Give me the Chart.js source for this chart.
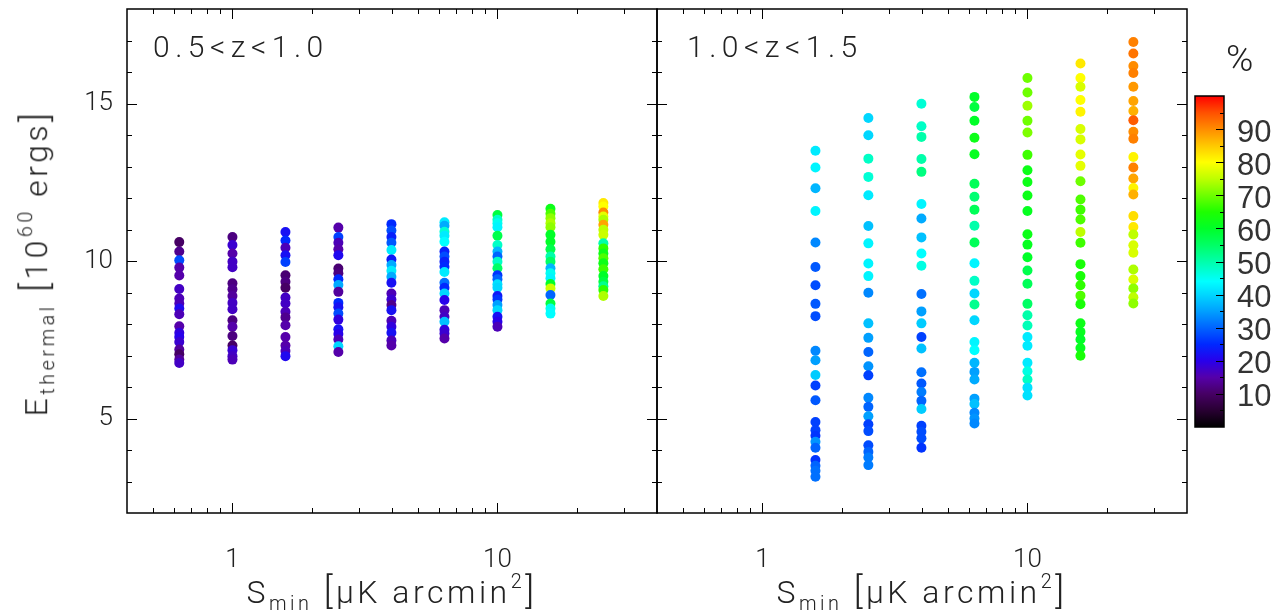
<!DOCTYPE html>
<html>
<head>
<meta charset="utf-8">
<script src="https://cdn.jsdelivr.net/npm/chart.js@4.4.0/dist/chart.umd.min.js"></script>
<style>
  html, body { margin: 0; padding: 0; background: #fff; }
  #wrap {
    position: relative; width: 1283px; height: 612px; overflow: hidden;
    font-family: Roboto, Lato, "DejaVu Sans", sans-serif; font-weight: 300; color: #222;
  }
  #wrap canvas { position: absolute; top: 0; }
  .lbl { position: absolute; white-space: nowrap; line-height: 1; }
  .panel { font-size: 30px; letter-spacing: 5.5px; top: 32px; }
  .xtitle { font-size: 32px; letter-spacing: 3.5px; top: 572px; transform: translateX(-50%); }
  .ytitle { font-size: 32px; letter-spacing: 3.5px; left: 37px; top: 263px; transform: translate(-50%, -50%) rotate(-90deg); }
  .lbl sub { font-size: 0.62em; vertical-align: -0.35em; }
  .lbl sup { font-size: 0.62em; vertical-align: 0.75em; }
  .lbl .br { font-size: 1.15em; }
  .pct { font-size: 37px; left: 1226px; top: 40px; }
</style>
</head>
<body>
<div id="wrap">
  <canvas id="lowZ" width="680" height="612" style="left:0"></canvas>
  <canvas id="highZ" width="600" height="612" style="left:600px"></canvas>
  <canvas id="cbar" width="100" height="612" style="left:1183px"></canvas>

  <div class="lbl panel" style="left:153px">0.5&lt;z&lt;1.0</div>
  <div class="lbl panel" style="left:687px">1.0&lt;z&lt;1.5</div>
  <div class="lbl xtitle" style="left:392px">S<sub>min</sub> <span class="br">[</span>&mu;K arcmin<sup>2</sup><span class="br">]</span></div>
  <div class="lbl xtitle" style="left:922px">S<sub>min</sub> <span class="br">[</span>&mu;K arcmin<sup>2</sup><span class="br">]</span></div>
  <div class="lbl ytitle">E<sub>thermal</sub> <span class="br">[</span>10<sup>60</sup> ergs<span class="br">]</span></div>
  <div class="lbl pct">%</div>
</div>
<script>
// noise thresholds, muK arcmin^2
const sminLow = [0.63, 1.0, 1.585, 2.51, 3.98, 6.31, 10.0, 15.85, 25.1];
const sminHigh = [1.585, 2.51, 3.98, 6.31, 10.0, 15.85, 25.1];

// 0.5 < z < 1.0 : thermal energy (1e60 erg) and percentage per threshold
const lowE = [
  [10.60, 10.30, 10.02, 9.79, 9.54, 9.11, 8.81, 8.65, 8.49, 8.31, 7.93, 7.72, 7.59, 7.43, 7.19, 7.04, 6.87, 6.76],
  [10.76, 10.51, 10.24, 9.98, 9.80, 9.29, 9.10, 8.89, 8.67, 8.47, 8.12, 7.91, 7.62, 7.32, 7.17, 6.98, 6.87],
  [10.92, 10.65, 10.42, 10.18, 9.97, 9.55, 9.34, 9.15, 8.84, 8.65, 8.39, 8.21, 7.96, 7.59, 7.32, 7.14, 6.98],
  [11.06, 10.76, 10.58, 10.37, 10.18, 9.76, 9.61, 9.42, 9.24, 9.02, 8.67, 8.53, 8.33, 8.14, 7.83, 7.68, 7.51, 7.29, 7.11],
  [11.17, 10.97, 10.76, 10.58, 10.35, 10.05, 9.87, 9.69, 9.50, 9.31, 8.97, 8.78, 8.60, 8.44, 8.10, 7.91, 7.72, 7.48, 7.32],
  [11.23, 11.12, 10.93, 10.80, 10.61, 10.30, 10.14, 9.98, 9.82, 9.65, 9.31, 9.15, 8.97, 8.76, 8.44, 8.23, 8.07, 7.82, 7.70, 7.54],
  [11.46, 11.31, 11.20, 11.07, 10.80, 10.51, 10.30, 10.14, 9.98, 9.77, 9.55, 9.42, 9.26, 9.15, 8.89, 8.78, 8.60, 8.44, 8.23, 8.07, 7.91],
  [11.66, 11.50, 11.36, 11.20, 11.07, 10.83, 10.61, 10.37, 10.14, 9.98, 9.77, 9.61, 9.45, 9.27, 9.13, 8.92, 8.65, 8.49, 8.33],
  [11.84, 11.73, 11.54, 11.41, 11.31, 11.15, 10.99, 10.83, 10.56, 10.40, 10.24, 10.09, 9.93, 9.74, 9.52, 9.34, 9.20, 9.08, 8.89]
];
const lowPct = [
  [10, 13, 28, 15, 15, 17, 16, 16, 21, 16, 15, 19, 20, 18, 14, 10, 14, 17],
  [12, 18, 15, 17, 17, 12, 13, 14, 17, 17, 12, 15, 12, 10, 18, 17, 16],
  [22, 25, 16, 22, 27, 11, 12, 10, 17, 17, 16, 13, 15, 15, 15, 16, 21],
  [15, 27, 16, 15, 21, 11, 12, 25, 36, 14, 25, 22, 28, 19, 22, 20, 16, 40, 15],
  [25, 28, 24, 29, 42, 23, 36, 42, 36, 22, 16, 18, 13, 22, 16, 19, 22, 16, 15],
  [42, 36, 47, 42, 44, 24, 28, 24, 25, 42, 31, 25, 40, 20, 16, 17, 38, 19, 18, 15],
  [58, 48, 45, 43, 57, 48, 37, 30, 48, 55, 26, 30, 41, 40, 23, 26, 35, 40, 22, 20, 16],
  [62, 68, 72, 74, 72, 60, 60, 57, 50, 55, 37, 45, 43, 60, 76, 30, 58, 45, 44],
  [82, 80, 90, 78, 74, 88, 75, 76, 50, 66, 62, 68, 62, 67, 60, 58, 52, 66, 74]
];

// 1.0 < z < 1.5
const highE = [
  [13.50, 12.97, 12.31, 11.59, 10.59, 9.81, 9.23, 8.64, 8.25, 7.15, 6.85, 6.38, 6.05, 5.58, 4.89, 4.63, 4.45, 4.26, 4.07, 3.68, 3.50, 3.34, 3.15],
  [14.54, 13.99, 13.25, 12.67, 12.09, 11.11, 10.56, 9.92, 9.52, 8.99, 8.02, 7.56, 7.11, 6.66, 6.37, 5.66, 5.37, 5.07, 4.82, 4.60, 4.15, 3.94, 3.76, 3.52],
  [14.99, 14.28, 13.94, 13.24, 12.83, 11.81, 11.35, 10.75, 10.24, 9.85, 8.95, 8.40, 8.02, 7.59, 7.22, 6.47, 6.11, 5.84, 5.56, 5.30, 4.77, 4.58, 4.37, 4.07],
  [15.21, 14.89, 14.45, 13.91, 13.39, 12.45, 12.04, 11.63, 11.12, 10.59, 9.93, 9.37, 8.97, 8.62, 8.12, 7.43, 7.17, 6.77, 6.48, 6.24, 5.63, 5.46, 5.18, 5.00, 4.84],
  [15.81, 15.35, 14.93, 14.45, 14.08, 13.37, 12.88, 12.51, 12.08, 11.59, 10.85, 10.52, 10.12, 9.70, 9.28, 8.64, 8.28, 7.95, 7.59, 7.31, 6.77, 6.50, 6.24, 5.98, 5.73],
  [16.27, 15.81, 15.53, 15.11, 14.74, 14.19, 13.86, 13.38, 13.02, 12.53, 11.95, 11.63, 11.32, 10.92, 10.58, 9.90, 9.52, 9.23, 8.90, 8.63, 8.02, 7.75, 7.51, 7.24, 6.99],
  [16.95, 16.59, 16.19, 15.97, 15.53, 15.08, 14.76, 14.47, 14.10, 13.88, 13.30, 12.97, 12.62, 12.32, 12.11, 11.43, 11.08, 10.84, 10.50, 10.26, 9.73, 9.41, 9.13, 8.85, 8.65]
];
const highPct = [
  [42, 43, 37, 43, 33, 29, 28, 29, 28, 33, 35, 39, 27, 29, 27, 27, 26, 34, 30, 26, 30, 31, 31],
  [40, 40, 48, 47, 42, 38, 43, 43, 43, 33, 38, 35, 30, 34, 27, 33, 30, 35, 27, 28, 28, 30, 32, 32],
  [47, 48, 50, 50, 53, 43, 36, 38, 44, 46, 31, 35, 39, 27, 38, 31, 29, 32, 30, 39, 27, 28, 28, 26],
  [60, 58, 60, 62, 61, 56, 54, 56, 50, 56, 43, 48, 40, 52, 40, 43, 44, 37, 35, 36, 35, 38, 33, 34, 33],
  [70, 70, 73, 70, 71, 67, 62, 62, 62, 61, 62, 61, 60, 57, 56, 55, 50, 49, 42, 42, 42, 46, 48, 41, 41],
  [82, 80, 77, 80, 81, 77, 77, 78, 78, 70, 68, 67, 68, 75, 67, 64, 64, 66, 68, 64, 62, 61, 60, 61, 64],
  [91, 92, 90, 91, 89, 88, 87, 94, 90, 91, 81, 91, 88, 81, 87, 83, 82, 75, 77, 77, 74, 77, 72, 75, 72]
];

const xMin = 0.4, xMax = 40, yMin = 2, yMax = 18;
const xMinorTicks = [0.5, 0.6, 0.7, 0.8, 0.9, 2, 3, 4, 5, 6, 7, 8, 9, 20, 30];
const xMajorTicks = [1, 10];
const barTicks = [10, 20, 30, 40, 50, 60, 70, 80, 90];

// rainbow colour table, fraction -> rgb
const rampStops = [
  [0.00, [0, 0, 0]], [0.05, [40, 0, 50]], [0.10, [70, 0, 100]], [0.15, [85, 0, 170]],
  [0.20, [40, 0, 235]], [0.25, [0, 40, 255]], [0.30, [0, 100, 255]], [0.35, [0, 160, 255]],
  [0.40, [0, 215, 255]], [0.44, [0, 255, 255]], [0.50, [0, 255, 170]], [0.55, [0, 255, 100]],
  [0.60, [0, 255, 40]], [0.65, [30, 255, 0]], [0.70, [110, 255, 0]], [0.75, [190, 255, 0]],
  [0.80, [255, 255, 0]], [0.85, [255, 200, 0]], [0.90, [255, 140, 0]], [0.95, [255, 80, 0]],
  [1.00, [255, 0, 0]]
];

function pctColor(p) {
  const t = Math.max(0, Math.min(1, p / 100));
  for (let i = 1; i < rampStops.length; i++) {
    const [t1, c1] = rampStops[i];
    const [t0, c0] = rampStops[i - 1];
    if (t <= t1) {
      const f = (t - t0) / (t1 - t0);
      const c = c0.map((v, k) => Math.round(v + (c1[k] - v) * f));
      return 'rgb(' + c.join(',') + ')';
    }
  }
  return 'rgb(255,0,0)';
}

function buildPoints(smin, energies, pcts) {
  const pts = [], cols = [];
  smin.forEach((s, i) => {
    energies[i].forEach((e, j) => {
      pts.push({ x: s, y: e });
      cols.push(pctColor(pcts[i][j]));
    });
  });
  return { pts, cols };
}

// pin an axis box to a fixed size and drop the label overhang padding
function fixBox(size, horizontal) {
  return s => {
    if (horizontal) s.height = size; else s.width = size;
    s.paddingTop = s.paddingBottom = s.paddingLeft = s.paddingRight = 0;
  };
}

// box with inward ticks on all four sides
const frameTicks = {
  id: 'frameTicks',
  afterDraw(chart) {
    const { ctx, chartArea: a, scales: { x, y } } = chart;
    ctx.save();
    ctx.strokeStyle = '#000';
    ctx.lineWidth = 1;
    const line = (x0, y0, x1, y1) => {
      ctx.beginPath(); ctx.moveTo(x0, y0); ctx.lineTo(x1, y1); ctx.stroke();
    };
    xMajorTicks.forEach(v => {
      const p = Math.round(x.getPixelForValue(v)) + 0.5;
      line(p, a.bottom, p, a.bottom - 10); line(p, a.top, p, a.top + 10);
    });
    xMinorTicks.forEach(v => {
      const p = Math.round(x.getPixelForValue(v)) + 0.5;
      line(p, a.bottom, p, a.bottom - 5); line(p, a.top, p, a.top + 5);
    });
    for (let v = yMin + 1; v < yMax; v++) {
      const p = Math.round(y.getPixelForValue(v)) + 0.5;
      const len = v % 5 === 0 ? 10 : 5;
      line(a.left, p, a.left + len, p); line(a.right, p, a.right - len, p);
    }
    ctx.lineWidth = 1.5;
    ctx.strokeRect(a.left, a.top, a.right - a.left, a.bottom - a.top);
    ctx.restore();
  }
};

const tickFont = { family: 'Roboto, Lato, "DejaVu Sans", sans-serif', size: 26, weight: '300' };

function panel(canvasId, smin, energies, pcts, pad, showY) {
  const { pts, cols } = buildPoints(smin, energies, pcts);
  return new Chart(document.getElementById(canvasId), {
    type: 'scatter',
    data: {
      datasets: [{
        data: pts,
        pointBackgroundColor: cols,
        pointBorderWidth: 0,
        pointRadius: 5,
        pointHoverRadius: 5
      }]
    },
    options: {
      responsive: false,
      animation: false,
      devicePixelRatio: 1,
      layout: { padding: pad },
      plugins: { legend: { display: false }, tooltip: { enabled: false } },
      scales: {
        x: {
          type: 'logarithmic', min: xMin, max: xMax,
          grid: { display: false, drawTicks: false },
          border: { display: false },
          ticks: {
            autoSkip: false, maxRotation: 0, padding: 32, color: '#222', font: tickFont,
            callback: v => (Math.abs(v - 1) < 1e-9 ? '1' : Math.abs(v - 10) < 1e-9 ? '10' : '')
          },
          afterFit: fixBox(99, true)
        },
        y: {
          display: showY,
          min: yMin, max: yMax,
          grid: { display: false, drawTicks: false },
          border: { display: false },
          ticks: {
            stepSize: 5, padding: 14, color: '#222', font: tickFont,
            callback: v => (v % 5 === 0 ? String(v) : '')
          },
          afterFit: fixBox(showY ? 127 : 0, false)
        }
      }
    },
    plugins: [frameTicks]
  });
}

panel('lowZ', sminLow, lowE, lowPct, { left: 0, right: 23, top: 9, bottom: 0 }, true);
panel('highZ', sminHigh, highE, highPct, { left: 57, right: 13, top: 9, bottom: 0 }, false);

// colour bar: gradient painted on the chart area of a bare percent axis
const colorRamp = {
  id: 'colorRamp',
  beforeDatasetsDraw(chart) {
    const { ctx, chartArea: a, scales: { y } } = chart;
    const top = y.getPixelForValue(100), bot = y.getPixelForValue(0);
    const g = ctx.createLinearGradient(0, bot, 0, top);
    rampStops.forEach(([t]) => g.addColorStop(t, pctColor(t * 100)));
    ctx.save();
    ctx.fillStyle = g;
    ctx.fillRect(a.left, top, a.right - a.left, bot - top);
    ctx.strokeStyle = '#000';
    ctx.lineWidth = 1;
    for (let v = 5; v < 100; v += 5) {
      const p = Math.round(y.getPixelForValue(v)) + 0.5;
      const len = v % 10 === 0 ? 8 : 4;
      ctx.beginPath(); ctx.moveTo(a.right, p); ctx.lineTo(a.right - len, p); ctx.stroke();
    }
    ctx.lineWidth = 1.5;
    ctx.strokeRect(a.left, top, a.right - a.left, bot - top);
    ctx.restore();
  }
};

new Chart(document.getElementById('cbar'), {
  type: 'scatter',
  data: { datasets: [] },
  options: {
    responsive: false,
    animation: false,
    devicePixelRatio: 1,
    layout: { padding: { left: 12, right: 0, top: 96, bottom: 185 } },
    plugins: { legend: { display: false }, tooltip: { enabled: false } },
    scales: {
      x: { display: false, min: 0, max: 1 },
      y: {
        position: 'right', min: 0, max: 100,
        grid: { display: false, drawTicks: false },
        border: { display: false },
        ticks: {
          stepSize: 10, autoSkip: false, padding: 13, labelOffset: 4, color: '#333',
          font: { family: '"Liberation Sans", Arial, sans-serif', size: 31 },
          callback: v => (barTicks.includes(v) ? String(v) : '')
        },
        afterFit: fixBox(59, false)
      }
    }
  },
  plugins: [colorRamp]
});
</script>
</body>
</html>
